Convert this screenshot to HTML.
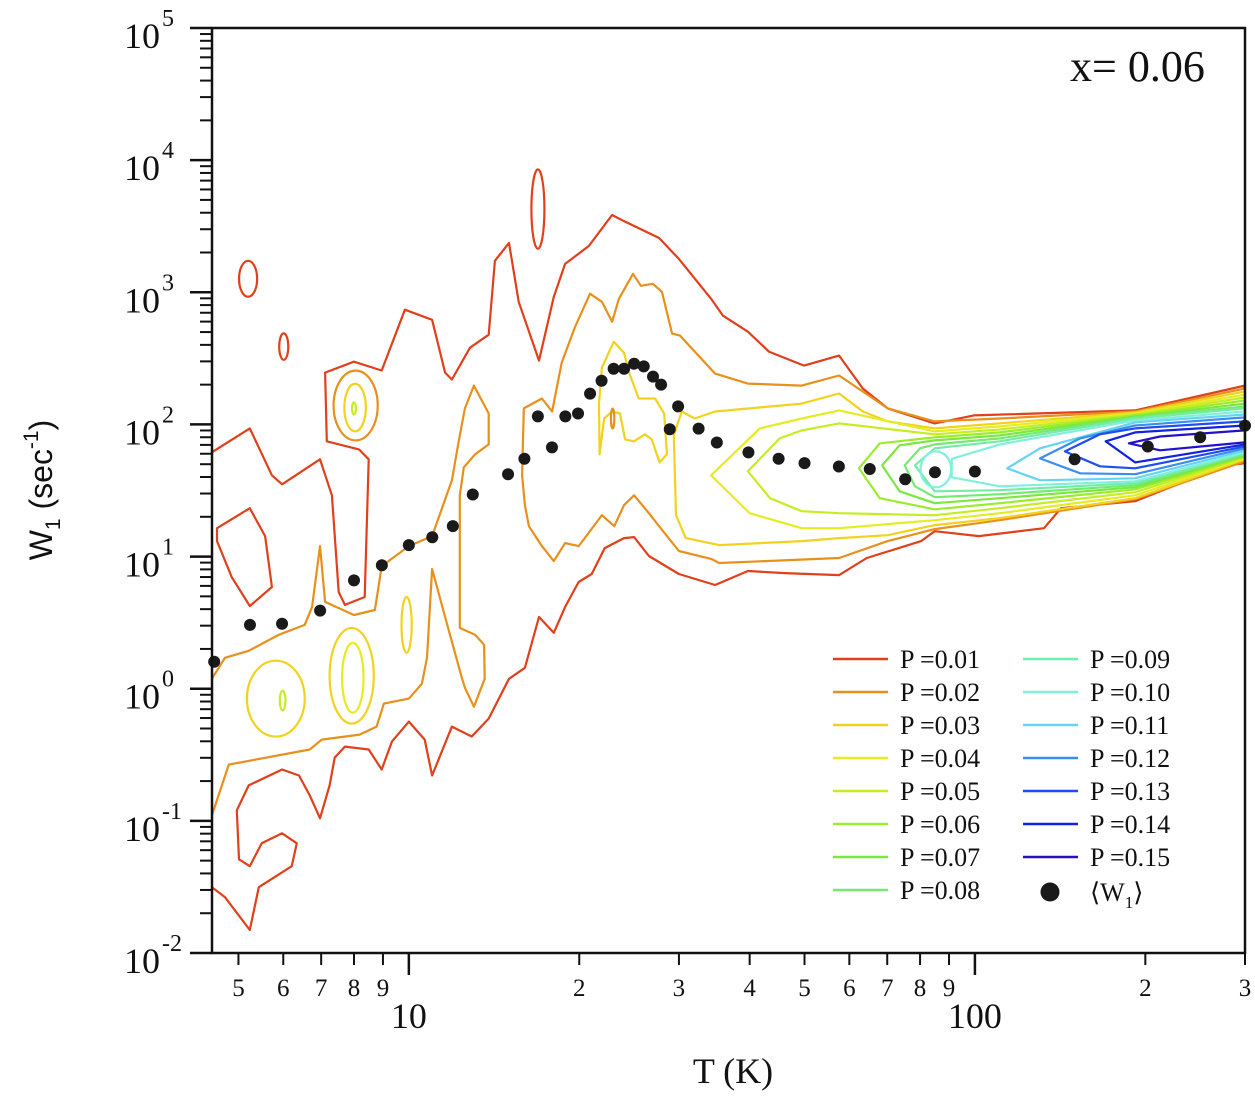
<!DOCTYPE html>
<html><head><meta charset="utf-8"><style>
html,body{margin:0;padding:0;background:#fff}
svg text{font-family:"Liberation Serif",serif;fill:#111}
</style></head><body>
<svg id="chart" width="1255" height="1092" viewBox="0 0 1255 1092" xmlns="http://www.w3.org/2000/svg">
<defs><clipPath id="plotclip"><rect x="212" y="28" width="1033" height="925"/></clipPath></defs>
<g id="contours" clip-path="url(#plotclip)"></g>
<g id="dots"></g>
<rect x="212" y="28" width="1033" height="925" fill="none" stroke="#111" stroke-width="2.5"/>
<g id="yaxis"></g>
<g id="xaxis"></g>
<text x="1070" y="81" font-size="44">x= 0.06</text>
<text transform="translate(52,490) rotate(-90)" text-anchor="middle" font-size="32" style="font-family:'Liberation Sans',sans-serif">W<tspan font-size="21" dy="8">1</tspan><tspan dy="-8"> (sec</tspan><tspan font-size="21" dy="-14">-1</tspan><tspan dy="14">)</tspan></text>
<text x="733" y="1083" text-anchor="middle" font-size="36">T (K)</text>
<g id="legend"></g>
</svg>
<script>
const levelNames=["0.01","0.02","0.03","0.04","0.05","0.06","0.07","0.08","0.09","0.10","0.11","0.12","0.13","0.14","0.15"];
const levelColors=["#e0401a","#e8901c","#f2d21e","#e4ec22","#c4ee22","#9aec2c","#7ae840","#74ea70","#74eca8","#80f0dc","#64d4f2","#3a8ef0","#1e4ef0","#1222e0","#2410c8"];
const meanT=[4.53,5.24,5.97,6.97,8.0,8.96,10,11,11.96,12.97,14.97,16,16.9,17.9,18.9,19.9,20.9,21.9,23,24,25,26,27,27.9,28.9,29.9,32.5,35,39.8,45,50,57.5,65.2,75.3,85,100,150,202,250,300];
const meanW=[1.6,3.04,3.1,3.9,6.6,8.6,12.2,14,17,29.5,42,55,115,67,115,121,171,214,264,264,288,275,230,200,92,137,93,73,61.5,55,51,48,46,38.5,43.5,44,54.5,68,80,98];
// contours: [levelIndex, closed, [[log10 T, log10 W],...]]
const contourRedMain=[[0.652,1.789],[0.719,1.970],[0.758,1.615],[0.776,1.547],[0.843,1.736],[0.864,1.464],[0.876,0.732],[0.887,0.634],[0.922,0.694],[0.929,1.736],[0.912,1.811],[0.855,1.872],[0.852,2.392],[0.903,2.475],[0.952,2.408],[0.993,2.868],[1.041,2.792],[1.064,2.392],[1.076,2.340],[1.108,2.581],[1.141,2.679],[1.152,3.238],[1.177,3.374],[1.194,2.928],[1.230,2.483],[1.256,2.966],[1.276,3.215],[1.318,3.351],[1.359,3.585],[1.376,3.547],[1.442,3.411],[1.477,3.253],[1.534,2.951],[1.555,2.823],[1.599,2.702],[1.636,2.551],[1.698,2.445],[1.760,2.521],[1.802,2.272],[1.846,2.121],[1.929,2.008],[1.998,2.068],[2.283,2.106],[2.477,2.294],[2.477,1.706],[2.443,1.691],[2.283,1.419],[2.152,1.366],[2.122,1.215],[2.007,1.155],[1.929,1.192],[1.905,1.117],[1.809,0.989],[1.760,0.860],[1.664,0.875],[1.599,0.891],[1.541,0.785],[1.477,0.868],[1.424,1.004],[1.398,1.147],[1.380,1.140],[1.346,1.064],[1.323,0.868],[1.300,0.808],[1.276,0.619],[1.256,0.423],[1.230,0.543],[1.205,0.158],[1.177,0.075],[1.141,-0.226],[1.111,-0.362],[1.076,-0.287],[1.041,-0.657],[1.028,-0.385],[1.000,-0.249],[0.970,-0.400],[0.952,-0.611],[0.929,-0.460],[0.887,-0.438],[0.869,-0.521],[0.860,-0.732],[0.843,-0.981],[0.825,-0.808],[0.806,-0.657],[0.776,-0.611],[0.717,-0.732],[0.696,-0.921],[0.700,-1.291],[0.719,-1.343],[0.740,-1.170],[0.776,-1.094],[0.802,-1.170],[0.793,-1.343],[0.735,-1.502],[0.719,-1.826],[0.675,-1.577],[0.652,-1.502]];
const contourRedLoop=[[0.661,1.215],[0.719,1.366],[0.746,1.155],[0.758,0.770],[0.719,0.626],[0.687,0.845],[0.661,1.117]];
const contourOrangeLeft=[[0.652,0.075],[0.675,0.234],[0.717,0.287],[0.770,0.408],[0.816,0.483],[0.829,0.619],[0.843,1.079],[0.852,0.657],[0.903,0.558],[0.940,0.596],[0.952,0.928],[1.000,1.079],[1.041,1.155],[1.076,1.577],[1.088,1.872],[1.099,2.121],[1.115,2.294],[1.141,2.083],[1.141,1.849],[1.117,1.774],[1.097,1.675],[1.090,1.464],[1.090,0.460],[1.117,0.408],[1.133,0.332],[1.134,0.075],[1.115,-0.136],[1.099,0.008],[1.094,0.075],[1.064,0.543],[1.041,0.906],[1.032,0.234],[1.023,0.038],[1.000,-0.075],[0.956,-0.113],[0.943,-0.287],[0.913,-0.347],[0.846,-0.385],[0.825,-0.460],[0.682,-0.574],[0.652,-0.958]];
const contourOrangeRight=[[1.203,2.121],[1.235,2.196],[1.253,2.098],[1.270,2.468],[1.293,2.732],[1.320,2.989],[1.341,2.928],[1.359,2.777],[1.371,2.951],[1.396,3.140],[1.410,3.049],[1.431,3.064],[1.447,3.004],[1.465,2.687],[1.479,2.672],[1.541,2.385],[1.599,2.309],[1.694,2.294],[1.760,2.370],[1.802,2.249],[1.846,2.121],[1.929,2.023],[2.044,2.045],[2.283,2.098],[2.477,2.272],[2.477,1.721],[2.283,1.434],[2.044,1.275],[1.929,1.208],[1.846,1.117],[1.760,0.989],[1.548,0.951],[1.535,0.981],[1.477,1.042],[1.442,1.230],[1.424,1.328],[1.398,1.464],[1.380,1.389],[1.363,1.230],[1.341,1.313],[1.300,1.079],[1.276,1.102],[1.256,0.966],[1.235,1.079],[1.212,1.230],[1.205,1.389],[1.200,1.615]];
const contourYellowPeak=[[1.341,2.430],[1.362,2.626],[1.380,2.543],[1.389,2.392],[1.406,2.196],[1.435,2.196],[1.451,2.083],[1.456,1.774],[1.443,1.713],[1.429,1.887],[1.417,1.925],[1.398,1.872],[1.382,1.887],[1.373,2.083],[1.359,2.098],[1.345,2.045],[1.337,1.774],[1.336,2.158]];
const contourYellowMain=[[2.477,1.736],[2.283,1.442],[2.044,1.291],[1.929,1.238],[1.846,1.162],[1.760,1.140],[1.694,1.117],[1.548,1.087],[1.489,1.140],[1.472,1.313],[1.468,1.917],[1.482,2.098],[1.505,2.045],[1.541,2.098],[1.694,2.158],[1.760,2.234],[1.802,2.098],[1.846,2.023],[1.929,1.970],[2.044,2.008],[2.283,2.091],[2.477,2.249]];
const contourP04=[[2.477,1.743],[2.283,1.464],[2.044,1.328],[1.929,1.275],[1.760,1.215],[1.694,1.215],[1.602,1.328],[1.534,1.615],[1.620,1.970],[1.694,2.045],[1.760,2.106],[1.929,1.947],[2.044,1.985],[2.283,2.083],[2.477,2.226]];
const contourP05=[[2.477,1.751],[2.283,1.487],[2.044,1.366],[1.929,1.313],[1.760,1.328],[1.694,1.343],[1.638,1.442],[1.599,1.645],[1.655,1.894],[1.694,1.955],[1.760,2.008],[1.929,1.925],[2.044,1.962],[2.283,2.075],[2.477,2.204]];
const contourP06=[[2.477,1.758],[2.283,1.509],[2.044,1.404],[1.929,1.358],[1.832,1.442],[1.795,1.668],[1.832,1.857],[1.929,1.902],[2.044,1.940],[2.283,2.068],[2.477,2.181]];
const contourP07=[[2.477,1.766],[2.283,1.525],[2.044,1.442],[1.929,1.404],[1.867,1.494],[1.836,1.691],[1.867,1.842],[1.929,1.879],[2.044,1.917],[2.283,2.060],[2.477,2.158]];
const contourP08=[[2.477,1.774],[2.283,1.540],[2.044,1.472],[1.929,1.449],[1.894,1.532],[1.876,1.691],[1.903,1.819],[1.929,1.849],[2.044,1.894],[2.283,2.053],[2.477,2.136]];
const contourP09=[[2.477,1.781],[2.283,1.555],[2.044,1.502],[1.929,1.494],[1.894,1.691],[1.929,1.819],[2.044,1.872],[2.283,2.045],[2.477,2.121]];
const contourP10=[[2.477,1.789],[2.283,1.570],[2.044,1.532],[1.959,1.600],[1.959,1.740],[2.044,1.849],[2.283,2.030],[2.477,2.098]];
const contourP11=[[2.477,1.804],[2.283,1.592],[2.115,1.577],[2.057,1.668],[2.115,1.819],[2.283,2.015],[2.477,2.075]];
const contourP12=[[2.477,1.819],[2.283,1.623],[2.186,1.630],[2.115,1.743],[2.186,1.894],[2.283,1.992],[2.477,2.053]];
const contourP13=[[2.477,1.834],[2.283,1.668],[2.221,1.683],[2.159,1.796],[2.221,1.925],[2.283,1.970],[2.477,2.023]];
const contourP14=[[2.477,1.849],[2.283,1.713],[2.231,1.872],[2.283,1.940],[2.477,1.992]];
const contourP15=[[2.477,1.864],[2.327,1.804],[2.272,1.857],[2.327,1.909],[2.477,1.955]];
// island ellipses: [levelIndex, center log T, center log W, half-width log T, half-height log W]
const islands=[[0,1.228,3.630,0.0115,0.30],[0,0.716,3.102,0.016,0.136],[0,0.779,2.589,0.008,0.10],[1,0.906,2.143,0.039,0.264],[2,0.905,2.128,0.019,0.18],[4,0.903,2.121,0.0035,0.045],[2,0.765,-0.075,0.051,0.287],[4,0.777,-0.09,0.005,0.075],[2,0.899,0.098,0.039,0.362],[3,0.901,0.083,0.019,0.264],[2,0.996,0.483,0.009,0.211],[1,1.360,2.045,0.003,0.075],[9,1.931,1.660,0.027,0.136]];
const contourList=[[0,false,contourRedMain],[0,true,contourRedLoop],[1,false,contourOrangeLeft],[1,true,contourOrangeRight],[2,true,contourYellowPeak],[2,false,contourYellowMain],[3,false,contourP04],[4,false,contourP05],[5,false,contourP06],[6,false,contourP07],[7,false,contourP08],[8,false,contourP09],[9,false,contourP10],[10,false,contourP11],[11,false,contourP12],[12,false,contourP13],[13,false,contourP14],[14,false,contourP15]];
const yDecades=[-2,-1,0,1,2,3,4,5];
const xMinorLabels=[[5,"5"],[6,"6"],[7,"7"],[8,"8"],[9,"9"],[20,"2"],[30,"3"],[40,"4"],[50,"5"],[60,"6"],[70,"7"],[80,"8"],[90,"9"],[200,"2"],[300,"3"]];
const xMajorLabels=[[10,"10"],[100,"100"]];

const NS="http://www.w3.org/2000/svg";
const X0=212,X1=1245,Y0=953,Y1=28;
const LT0=Math.log10(4.49),LT1=Math.log10(300);
function xl(lt){return X0+(lt-LT0)/(LT1-LT0)*(X1-X0);}
function yl(lw){return Y0-(lw+2)/7*(Y0-Y1);}
function xs(t){return xl(Math.log10(t));}
function ys(w){return yl(Math.log10(w));}
function mk(tag,attrs,parent){const e=document.createElementNS(NS,tag);for(const k in attrs)e.setAttribute(k,attrs[k]);parent.appendChild(e);return e;}

const cg=document.getElementById('contours');
contourList.forEach(function(c,i){
  const pts=c[2].map(p=>xl(p[0]).toFixed(1)+','+yl(p[1]).toFixed(1)).join(' ');
  const el=mk(c[1]?'polygon':'polyline',{points:pts,fill:'none',stroke:levelColors[c[0]],'stroke-width':2.2,'stroke-linejoin':'round'},cg);
  
  
});
islands.forEach(function(s,i){
  const cx=xl(s[1]),cy=yl(s[2]);
  const rx=xl(s[1]+s[3])-cx,ry=cy-yl(s[2]+s[4]);
  const el=mk('ellipse',{cx:cx,cy:cy,rx:rx,ry:ry,fill:'none',stroke:levelColors[s[0]],'stroke-width':2.2},cg);
  
  
});
const dg=document.getElementById('dots');
meanT.forEach(function(t,i){
  const el=mk('ellipse',{cx:xs(t),cy:ys(meanW[i]),rx:6,ry:6,fill:'#1a1a1a'},dg);
  
  
});
// y axis
const ya=document.getElementById('yaxis');
yDecades.forEach(function(d,i){
  const y=yl(d);
  mk('line',{x1:190,x2:X0,y1:y,y2:y,stroke:'#111','stroke-width':2.5},ya);
  const t=mk('text',{x:160,y:y+20,'text-anchor':'end','font-size':36},ya);
  t.textContent='10';
  
  
  const s=mk('text',{x:162,y:y-2,'font-size':24},ya);
  s.textContent=String(d);
  
  
  if(i<yDecades.length-1){for(let m=2;m<10;m++){const yy=yl(d+Math.log10(m));mk('line',{x1:200,x2:X0,y1:yy,y2:yy,stroke:'#111','stroke-width':2},ya);}}
});
// x axis
const xa=document.getElementById('xaxis');
xMinorLabels.forEach(function(p){
  const x=xs(p[0]);
  mk('line',{x1:x,x2:x,y1:Y0,y2:Y0+12,stroke:'#111','stroke-width':2},xa);
  const t=mk('text',{x:x,y:996,'text-anchor':'middle','font-size':25},xa);
  t.textContent=p[1];
  
  
});
xMajorLabels.forEach(function(p){
  const x=xs(p[0]);
  mk('line',{x1:x,x2:x,y1:Y0,y2:Y0+22,stroke:'#111','stroke-width':2.5},xa);
  const t=mk('text',{x:x,y:1028,'text-anchor':'middle','font-size':36},xa);
  t.textContent=p[1];
  
  
});
// legend
const lg=document.getElementById('legend');
levelNames.forEach(function(n,i){
  const col=i<8?0:1,row=i<8?i:i-8;
  const x=col?1023:833,y=659+row*33;
  mk('line',{x1:x,x2:x+55,y1:y,y2:y,stroke:levelColors[i],'stroke-width':2.5},lg);
  const t=mk('text',{x:x+67,y:y+9,'font-size':26},lg);
  t.textContent='P =' + n;
  
  
});
mk('ellipse',{cx:1050,cy:892,rx:9.5,ry:9.5,fill:'#1a1a1a'},lg);
const wl=mk('text',{x:1090,y:901,'font-size':26},lg);
wl.innerHTML='⟨W<tspan font-size="17" dy="7">1</tspan><tspan dy="-7">⟩</tspan>';


</script>
</body></html>
